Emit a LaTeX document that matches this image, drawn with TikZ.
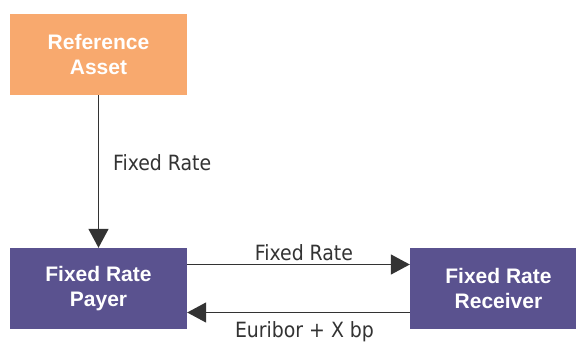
\documentclass[tikz,border=0pt]{standalone}
\usepackage{fontspec}
\setmainfont{Liberation Sans}
\newfontfamily\labelfont{DejaVu Sans Condensed}
\usetikzlibrary{arrows.meta}
\definecolor{assetorange}{HTML}{F8A96E}
\definecolor{partypurple}{HTML}{5A528F}
\definecolor{flowgray}{HTML}{333333}
\tikzset{
  party/.style={draw=none, fill=partypurple, minimum width=177pt, minimum height=81pt,
    inner sep=0pt, align=center, text=white, font=\fontsize{21}{25}\selectfont\bfseries},
  asset/.style={party, fill=assetorange},
  flow/.style={draw=flowgray, line width=1.5pt, -{Triangle[length=19pt,width=20pt]}},
  flowlabel/.style={inner sep=0pt, text=flowgray, font=\labelfont\fontsize{21}{24}\selectfont}
}
\begin{document}
\begin{tikzpicture}[x=1pt, y=-1pt]
  \clip (0,0) rectangle (576,341);
  \fill[white] (0,0) rectangle (576,341);
  \node[asset] (ref) at (98.5,54.5) {Reference\\Asset};
  \node[party] (payer) at (98.5,288.5) {Fixed Rate\\Payer};
  \node[party] (recv) at (498.5,288.5) {Fixed Rate\\Receiver};

  \draw[flow] (ref.south) -- (payer.north);
  \draw[flow] ([yshift=24pt]payer.east) -- ([yshift=24pt]recv.west);
  \draw[flow] ([yshift=-24pt]recv.west) -- ([yshift=-24pt]payer.east);

  \node[flowlabel, anchor=base west] (lblref) at (113,170.5) {Fixed Rate};
  \node[flowlabel, anchor=base] (lblfix) at (304,260) {Fixed Rate};
  \node[flowlabel, anchor=base] (lblflt) at (304.5,337) {Euribor + X bp};
\end{tikzpicture}
\end{document}
